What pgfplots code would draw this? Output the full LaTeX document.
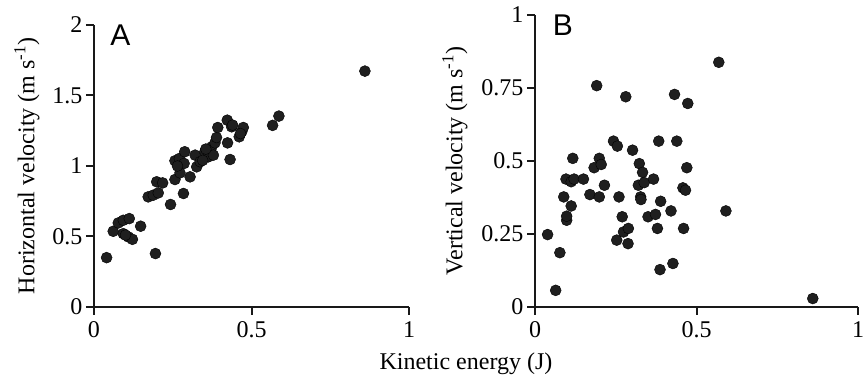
\documentclass[border=0pt]{standalone}
\usepackage{pgfplots}
\pgfplotsset{compat=1.18}
\usepackage{fontspec}
\setmainfont{Liberation Serif}
\newfontfamily\panelfont{Liberation Sans}
\newcommand{\bigfont}{\fontsize{24}{28}\selectfont}
\pgfplotsset{
  myax/.style={
    scale only axis,
    axis x line=bottom, axis y line=left,
    axis line style={-, line width=2pt, black!90},
    every tick/.style={line width=2pt, black!90},
    tick align=outside, major tick length=8pt,
    xmin=0, xmax=1, xtick={0,0.5,1},
    tick label style={font=\bigfont},
    xticklabel style={yshift=-3pt},
    label style={font=\bigfont},
    /pgf/number format/assume math mode=true,
    clip=false,
  },
  dots/.style={only marks, mark=*, mark size=5.5pt, mark options={fill=black!88, draw=none}},
}
\begin{document}
\begin{tikzpicture}
\useasboundingbox (0,0) rectangle (868pt,377pt);
\begin{axis}[myax, at={(94pt,70pt)}, anchor=south west, width=315pt, height=282pt,
  ymin=0, ymax=2, ytick={0,0.5,1,1.5,2},
  ylabel={Horizontal velocity (m s\textsuperscript{-1})},
  ylabel style={at={(axis description cs:-0.213,0.5)}, anchor=center}]
\addplot[dots] coordinates {
(0.040,0.35) (0.195,0.379) (0.061,0.537) (0.077,0.596) (0.093,0.615) (0.112,0.627)
(0.093,0.52) (0.109,0.497) (0.122,0.48) (0.100,0.51) (0.148,0.573) (0.172,0.781) (0.188,0.793)
(0.204,0.809) (0.199,0.888) (0.218,0.880) (0.243,0.727) (0.284,0.805) (0.257,0.904)
(0.273,0.951) (0.257,1.037) (0.271,1.053) (0.288,1.101) (0.286,1.018) (0.305,0.923)
(0.321,1.077) (0.326,0.994) (0.337,1.030) (0.352,1.101) (0.363,1.065) (0.374,1.136)
(0.379,1.077) (0.384,1.164) (0.389,1.202) (0.393,1.273) (0.424,1.164) (0.423,1.325)
(0.437,1.278) (0.432,1.046) (0.461,1.207) (0.469,1.243) (0.474,1.273) (0.567,1.288)
(0.587,1.354) (0.860,1.673) (0.265,1.0) (0.345,1.04) (0.355,1.12) (0.44,1.29) (0.465,1.23)
};
\node[anchor=north west, inner sep=0pt, font=\panelfont\fontsize{30}{30}\selectfont] at (rel axis cs:0.051,1) {A};
\end{axis}
\begin{axis}[myax, at={(535pt,70pt)}, anchor=south west, width=323pt, height=292pt,
  ymin=0, ymax=1, ytick={0,0.25,0.5,0.75,1},
  yticklabels={0,0.25,0.5,0.75,1},
  ylabel={Vertical velocity (m s\textsuperscript{-1})},
  ylabel style={at={(axis description cs:-0.248,0.5)}, anchor=center}]
\addplot[dots] coordinates {
(0.039,0.248) (0.064,0.057) (0.077,0.186) (0.089,0.377) (0.098,0.297) (0.098,0.311)
(0.096,0.438) (0.112,0.429) (0.112,0.346) (0.117,0.509) (0.121,0.438) (0.150,0.438)
(0.170,0.385) (0.183,0.477) (0.191,0.758) (0.199,0.509) (0.205,0.488) (0.199,0.377)
(0.215,0.417) (0.243,0.568) (0.255,0.551) (0.253,0.229) (0.260,0.377) (0.270,0.309)
(0.274,0.257) (0.281,0.720) (0.289,0.269) (0.288,0.217) (0.302,0.537) (0.323,0.491)
(0.333,0.461) (0.320,0.417) (0.338,0.426) (0.327,0.377) (0.328,0.368) (0.350,0.309)
(0.373,0.317) (0.367,0.438) (0.383,0.568) (0.379,0.269) (0.387,0.128) (0.389,0.362)
(0.421,0.329) (0.427,0.149) (0.432,0.728) (0.439,0.568) (0.458,0.408) (0.466,0.400)
(0.460,0.269) (0.470,0.477) (0.473,0.697) (0.569,0.838) (0.591,0.329) (0.860,0.029)
};
\node[anchor=north west, inner sep=0pt, font=\panelfont\fontsize{30}{30}\selectfont] at (rel axis cs:0.055,1) {B};
\end{axis}
\node[anchor=base, font=\bigfont, inner sep=0pt] at (466pt,7pt) {Kinetic energy (J)};
\end{tikzpicture}
\end{document}
